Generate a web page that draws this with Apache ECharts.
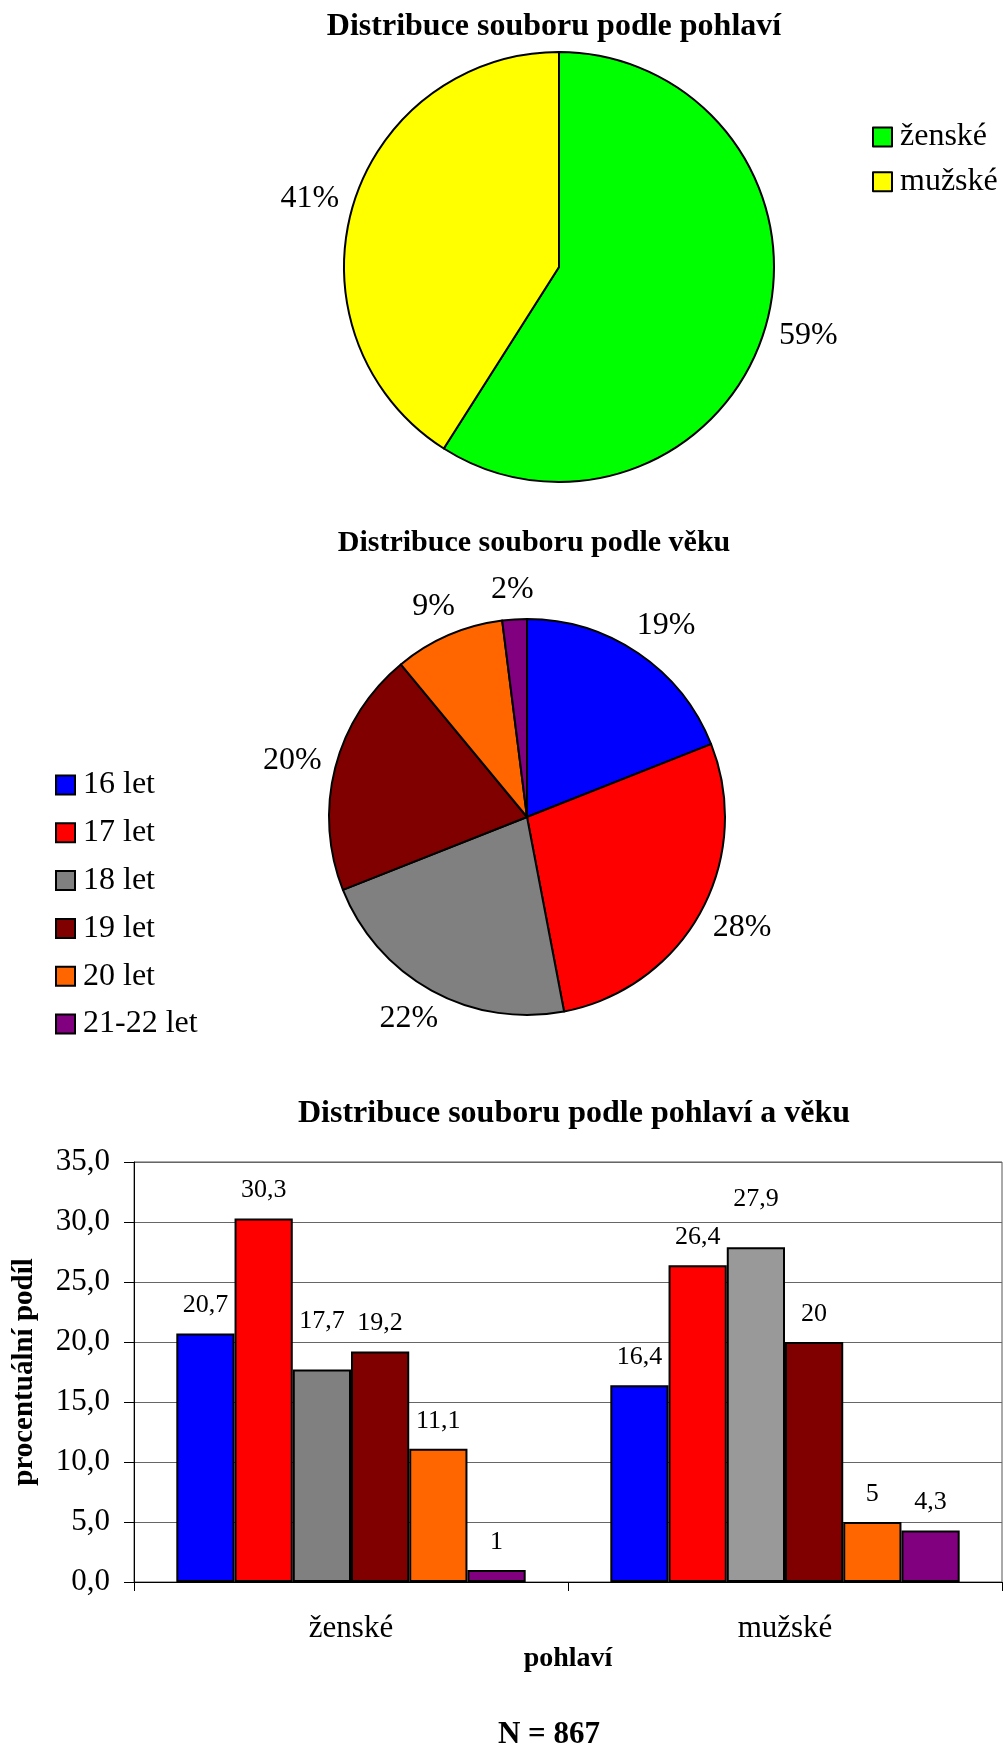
<!DOCTYPE html>
<html>
<head>
<meta charset="utf-8">
<script src="https://cdn.jsdelivr.net/npm/echarts@6/dist/echarts.min.js"></script>
<style>
  body { margin: 0; background: #fff; }
  #main { width: 1003px; height: 1747px; }
</style>
</head>
<body>
<div id="main"></div>
<script>
const genderNames = ["ženské", "mužské"];
const genderShare = [59, 41];
const genderColors = ["#00FF00", "#FFFF00"];

const ageNames = ["16 let", "17 let", "18 let", "19 let", "20 let", "21-22 let"];
const ageShare = [19, 28, 22, 20, 9, 2];
const ageColors = ["#0000FF", "#FF0000", "#808080", "#800000", "#FF6600", "#800080"];

// podíl v % podle pohlaví (ženské, mužské) pro každou věkovou skupinu
const femaleByAge = [20.7, 30.3, 17.7, 19.2, 11.1, 1];
const maleByAge = [16.4, 26.4, 27.9, 20, 5, 4.3];

const FONT = "Liberation Serif";

const pie1 = { center: [559, 267], r: 215 };
const pie2 = { center: [527, 817], r: 198 };

// popisky výsečí: rámeček popisku se dotýká kružnice o kousek větší než koláč
function pieLabelLayout(pie, values) {
  const total = values.reduce((a, b) => a + b, 0);
  const gap = 14;
  return function (params) {
    let before = 0;
    for (let i = 0; i < params.dataIndex; i++) before += values[i];
    const mid = ((before + values[params.dataIndex] / 2) / total) * Math.PI * 2;
    const dx = Math.sin(mid);
    const dy = -Math.cos(mid);
    const m = Math.max(Math.abs(dx), Math.abs(dy));
    const hw = params.labelRect.width / 2;
    const hh = params.labelRect.height / 2;
    return {
      x: pie.center[0] + dx * (pie.r + gap) + (hw * dx) / m,
      y: pie.center[1] + dy * (pie.r + gap) + (hh * dy) / m,
      align: "center",
      verticalAlign: "middle",
    };
  };
}

const comma = (v) => String(v).replace(".", ",");

const titleStyle = (size) => ({
  fontFamily: FONT,
  fontWeight: "bold",
  fontSize: size,
  color: "#000",
});

const barSeries = ageNames.map((name, i) => ({
  name: name,
  type: "bar",
  barGap: 0,
  barCategoryGap: "19.5%",
  data: [femaleByAge[i], maleByAge[i]].map((v, j) => {
    // šedý sloupec u mužů je v originále světlejší
    if (i === 2 && j === 1) return { value: v, itemStyle: { color: "#999999" } };
    return v;
  }),
  itemStyle: { color: ageColors[i], borderColor: "#000", borderWidth: 2 },
  label: {
    show: true,
    position: "top",
    distance: i === 2 ? 35 : 15,
    fontFamily: FONT,
    fontSize: 26,
    color: "#000",
    formatter: (p) => comma(p.value),
  },
  silent: true,
}));

const legendText = { fontFamily: FONT, fontSize: 32, lineHeight: 30, color: "#000", padding: [0, 0, 0, 3] };

const option = {
  animation: false,
  backgroundColor: "#fff",
  title: [
    { text: "Distribuce souboru podle pohlaví", left: 549, top: 6, textAlign: "center", textStyle: titleStyle(32) },
    { text: "Distribuce souboru podle věku", left: 529, top: 523, textAlign: "center", textStyle: titleStyle(30) },
    { text: "Distribuce souboru podle pohlaví a věku", left: 569, top: 1093, textAlign: "center", textStyle: titleStyle(32) },
    { text: "N = 867", left: 544, top: 1714, textAlign: "center", textStyle: titleStyle(31) },
  ],
  legend: [
    {
      data: genderNames,
      orient: "vertical",
      left: 872,
      top: 121,
      padding: 0,
      icon: "rect",
      itemWidth: 19,
      itemHeight: 19,
      itemGap: 12.8,
      selectedMode: false,
      textStyle: legendText,
    },
    {
      data: ageNames,
      orient: "vertical",
      left: 55,
      top: 769,
      padding: 0,
      icon: "rect",
      itemWidth: 19,
      itemHeight: 19,
      itemGap: 15.8,
      selectedMode: false,
      textStyle: legendText,
    },
  ],
  grid: {
    left: 134,
    top: 1162,
    width: 868,
    height: 420,
    show: true,
    borderColor: "#555",
    borderWidth: 1,
    outerBoundsMode: "none",
  },
  xAxis: {
    type: "category",
    data: genderNames,
    name: "pohlaví",
    nameLocation: "middle",
    nameGap: 58,
    nameTextStyle: { fontFamily: FONT, fontWeight: "bold", fontSize: 28, color: "#000" },
    axisLine: { lineStyle: { color: "#000", width: 1 } },
    axisTick: { show: true, length: 9, lineStyle: { color: "#000" } },
    axisLabel: { margin: 31, fontFamily: FONT, fontSize: 31, color: "#000" },
  },
  yAxis: {
    type: "value",
    min: 0,
    max: 35,
    interval: 5,
    name: "procentuální podíl",
    nameLocation: "middle",
    nameGap: 95,
    nameTextStyle: { fontFamily: FONT, fontWeight: "bold", fontSize: 29, color: "#000" },
    axisLine: { show: true, lineStyle: { color: "#000", width: 1 } },
    axisTick: { show: true, length: 10, lineStyle: { color: "#000" } },
    splitLine: { lineStyle: { color: "#666", width: 1 } },
    axisLabel: {
      margin: 24,
      fontFamily: FONT,
      fontSize: 31,
      color: "#000",
      formatter: (v) => v.toFixed(1).replace(".", ","),
    },
  },
  series: [
    {
      type: "pie",
      center: pie1.center,
      radius: pie1.r,
      startAngle: 90,
      clockwise: true,
      silent: true,
      data: genderNames.map((n, i) => ({ name: n, value: genderShare[i], itemStyle: { color: genderColors[i] } })),
      itemStyle: { borderColor: "#000", borderWidth: 2 },
      label: {
        show: true,
        position: "outside",
        fontFamily: FONT,
        fontSize: 32,
        color: "#000",
        formatter: (p) => p.value + "%",
      },
      labelLine: { show: false },
      labelLayout: pieLabelLayout(pie1, genderShare),
    },
    {
      type: "pie",
      center: pie2.center,
      radius: pie2.r,
      startAngle: 90,
      clockwise: true,
      silent: true,
      data: ageNames.map((n, i) => ({ name: n, value: ageShare[i], itemStyle: { color: ageColors[i] } })),
      itemStyle: { borderColor: "#000", borderWidth: 2 },
      label: {
        show: true,
        position: "outside",
        fontFamily: FONT,
        fontSize: 32,
        color: "#000",
        formatter: (p) => p.value + "%",
      },
      labelLine: { show: false },
      labelLayout: pieLabelLayout(pie2, ageShare),
    },
    ...barSeries,
  ],
};

const chart = echarts.init(document.getElementById("main"));
chart.setOption(option);
</script>
</body>
</html>
